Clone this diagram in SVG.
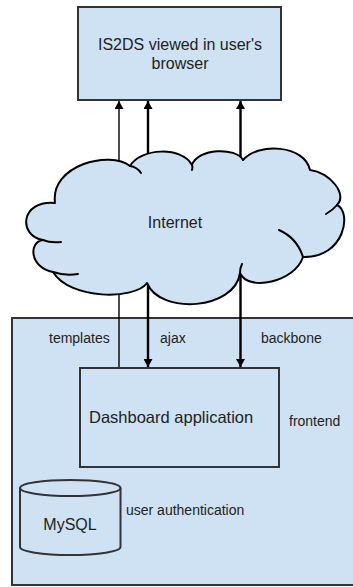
<svg xmlns="http://www.w3.org/2000/svg" width="353" height="587" viewBox="0 0 353 587">
<style>
.box{fill:#cfe2f3;stroke:#333;stroke-width:2}
.hook{fill:none;stroke:#000;stroke-width:2;stroke-linecap:round}
.t{font-family:"Liberation Sans",Arial,sans-serif;fill:#222}
.big{font-size:16px}
.lbl{font-size:14px}
.thin{stroke:#000;stroke-width:1.4;fill:none}
.thick{stroke:#000;stroke-width:2.4;fill:none}
</style>
<defs>
<marker id="ah" viewBox="0 0 8 9" refX="8" refY="4.5" markerWidth="8" markerHeight="9" markerUnits="userSpaceOnUse" orient="auto-start-reverse">
<path d="M0,0 L8,4.5 L0,9 Z" fill="#000"/>
</marker>
</defs>
<rect width="353" height="587" fill="#fff"/>
<g id="frontend">
<rect class="box" x="12" y="318" width="350" height="267"/>
<text class="t lbl" x="289" y="426">frontend</text>
</g>
<g id="browser">
<rect class="box" x="78" y="7" width="203" height="93"/>
<text class="t big" x="180" y="50" text-anchor="middle">IS2DS viewed in user's</text>
<text class="t big" x="180" y="69" text-anchor="middle">browser</text>
</g>
<g id="dashboard">
<rect class="box" x="80" y="368" width="199" height="99"/>
<text class="t big" x="89" y="423" style="font-size:16.5px">Dashboard application</text>
</g>
<g id="connectors">
<path class="thin" d="M119,367 L119,101" marker-end="url(#ah)"/>
<path class="thick" d="M148,367 L148,101" marker-start="url(#ah)" marker-end="url(#ah)"/>
<path class="thick" d="M240.5,367 L240.5,101" marker-start="url(#ah)" marker-end="url(#ah)"/>
<text class="t lbl" x="49" y="343">templates</text>
<text class="t lbl" x="160" y="343">ajax</text>
<text class="t lbl" x="261" y="343">backbone</text>
</g>
<g id="internet">
<path fill="#cfe2f3" stroke="#000" stroke-width="2" stroke-linejoin="round" d="M55,203 C50,165 110,150 130,166 C140,148 182,146 192,165 C198,148 236,147 243,160 C258,142 305,145 310,170 C330,172 348,195 337,205 C352,212 345,258 303,257 C295,282 248,292 240,273 C235,310 160,315 147,283 C135,300 70,300 53,272 C30,268 28,242 43,240 C18,236 20,200 55,203 Z"/>
<path class="hook" d="M130,166 Q137,167 141,173"/>
<path class="hook" d="M192,165 Q193,167 192,170"/>
<path class="hook" d="M337,205 Q333,210 326,214"/>
<path class="hook" d="M279,230 Q297,238 303,257"/>
<path class="hook" d="M240,273 Q240,268 242,264"/>
<path class="hook" d="M53,272 Q65,276 78,274"/>
<path class="hook" d="M43,240 Q50,243 61,242"/>
<text class="t big" x="175" y="228" text-anchor="middle">Internet</text>
</g>
<g id="mysql">
<path class="box" d="M20,488 L20,547 A50,8 0 0 0 120.5,547 L120.5,488"/>
<ellipse class="box" cx="70.25" cy="488" rx="50.25" ry="8"/>
<text class="t big" x="70" y="530" text-anchor="middle">MySQL</text>
<text class="t lbl" x="126" y="515">user authentication</text>
</g>
</svg>
